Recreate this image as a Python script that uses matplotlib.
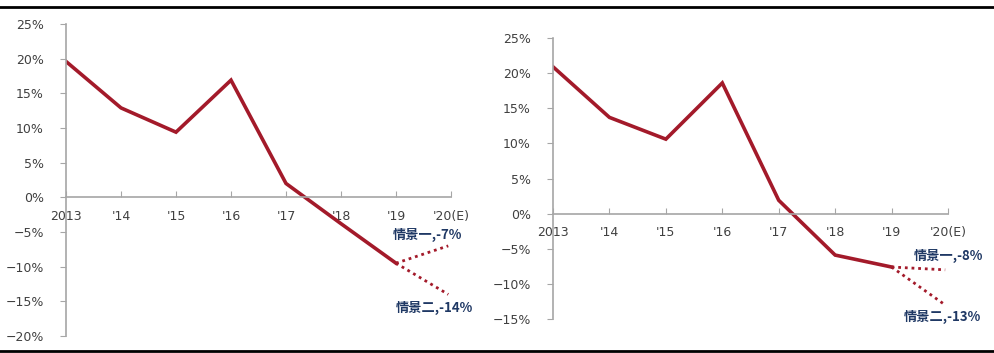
import matplotlib
matplotlib.use("Agg")
import matplotlib.pyplot as plt
from matplotlib.lines import Line2D
from matplotlib.ticker import FuncFormatter

# === Data ===
years = ["2013", "'14", "'15", "'16", "'17", "'18", "'19", "'20(E)"]
left_hist = [19.6, 12.9, 9.4, 16.9, 2.0, -3.8, -9.5]
left_s1 = -7
left_s2 = -14
right_hist = [20.9, 13.7, 10.6, 18.6, 1.9, -5.9, -7.6]
right_s1 = -8
right_s2 = -13

RED = "#A31A2A"
GRAY = "#A6A6A6"
NAVY = "#1F3864"
CJK = ["Noto Sans CJK SC", "DejaVu Sans"]

W, H = 994, 353
fig = plt.figure(figsize=(W / 100, H / 100), dpi=100)


def make_panel(rect, hist, s1, s2, ylim, yticks, lab1_off, lab2_off):
    ax = fig.add_axes(rect)
    x = list(range(len(hist)))
    ax.plot(x, hist, color=RED, lw=2.6, solid_joinstyle="miter")
    last = len(hist) - 1
    ax.plot([last, last + 0.95], [hist[-1], s1], color=RED, lw=2, ls=(0, (1, 1.4)))
    ax.plot([last, last + 0.95], [hist[-1], s2], color=RED, lw=2, ls=(0, (1, 1.4)))

    ax.set_xlim(0, len(years) - 1)
    ax.set_ylim(*ylim)
    ax.set_yticks(yticks)
    ax.yaxis.set_major_formatter(FuncFormatter(lambda v, p: f"{v:.0f}%".replace("-", "\u2212")))
    ax.set_xticks(range(len(years)))
    ax.set_xticklabels(years)

    for s in ["top", "right"]:
        ax.spines[s].set_visible(False)
    ax.spines["bottom"].set_position(("data", 0))
    for s in ["left", "bottom"]:
        ax.spines[s].set_color(GRAY)
        ax.spines[s].set_linewidth(1.2)
    ax.tick_params(axis="y", direction="out", length=4, color=GRAY, labelsize=9, labelcolor="#404040", pad=12)
    ax.tick_params(axis="x", direction="in", length=4, color=GRAY, labelsize=9, labelcolor="#404040", pad=9)
    ax.patch.set_alpha(0)

    name1 = "情景一," + f"{s1}%"
    name2 = "情景二," + f"{s2}%"
    ax.text(len(years) - 1 + lab1_off[0], s1 + lab1_off[1], name1, color=NAVY, fontsize=9.5,
            fontweight="bold", family=CJK, ha="center", va="center")
    ax.text(len(years) - 1 + lab2_off[0], s2 + lab2_off[1], name2, color=NAVY, fontsize=9.5,
            fontweight="bold", family=CJK, ha="center", va="center")
    return ax


# left chart
make_panel([66 / W, 17 / H, 385 / W, 312 / H], left_hist, left_s1, left_s2,
           (-20, 25), list(range(-20, 30, 5)), (-0.42, 1.5), (-0.3, -1.9))
# right chart
make_panel([553 / W, 34 / H, 395 / W, 281 / H], right_hist, right_s1, right_s2,
           (-15, 25), list(range(-15, 30, 5)), (0.0, 2.0), (-0.1, -1.7))

# frame lines top and bottom
fig.add_artist(Line2D([0, 1], [1 - 7 / H, 1 - 7 / H], color="black", lw=2))
fig.add_artist(Line2D([0, 1], [2 / H, 2 / H], color="black", lw=2))

fig.savefig("out.png", dpi=100)
